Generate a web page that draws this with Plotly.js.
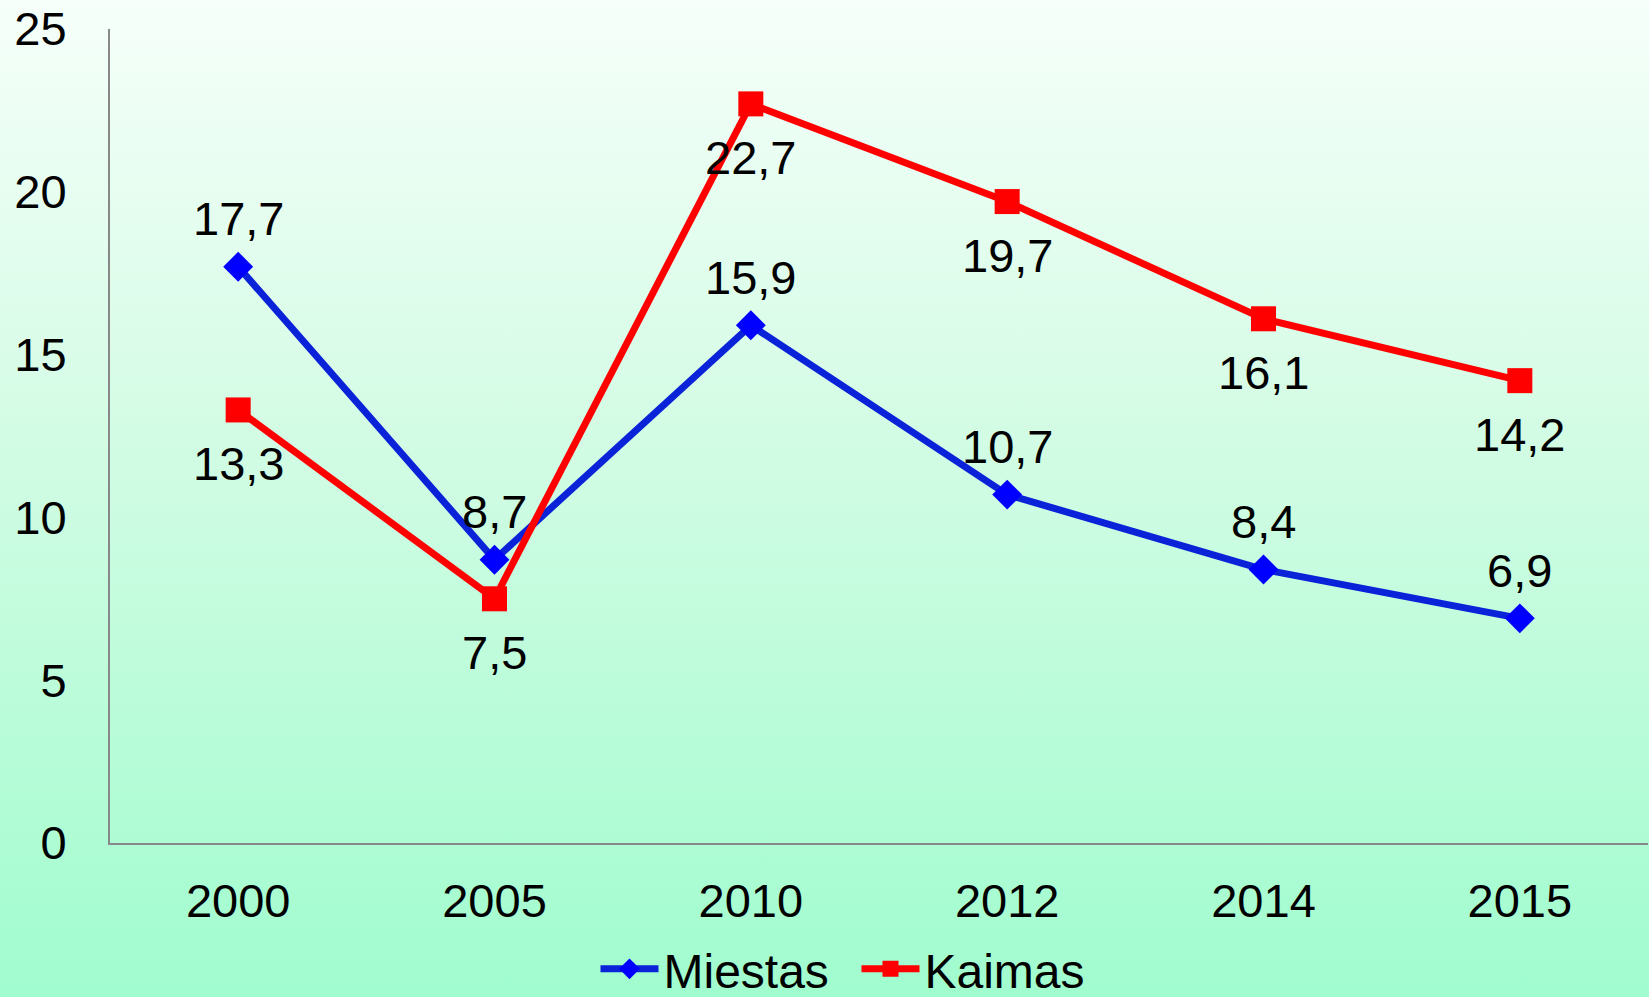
<!DOCTYPE html>
<html>
<head>
<meta charset="utf-8">
<script src="https://cdn.plot.ly/plotly-3.0.1.min.js"></script>
<style>
html,body{margin:0;padding:0;}
#chart{width:1649px;height:997px;background:linear-gradient(to bottom,#f6fffa 0%,#d6fce6 40%,#a0fcce 100%);}
</style>
</head>
<body>
<div id="chart"></div>
<script>
const years = ['2000','2005','2010','2012','2014','2015'];
const miestas = [17.7, 8.7, 15.9, 10.7, 8.4, 6.9];
const kaimas = [13.3, 7.5, 22.7, 19.7, 16.1, 14.2];
const fmt = v => v.toFixed(1).replace('.', ',');
const FONT = 'Liberation Sans, Arial, sans-serif';

const traces = [
  {
    x: years, y: miestas, name: 'Miestas', type: 'scatter', mode: 'lines+markers',
    line: {color: '#0a22d8', width: 7},
    marker: {symbol: 'diamond', size: 23, color: '#0000ff'},
    cliponaxis: false
  },
  {
    x: years, y: kaimas, name: 'Kaimas', type: 'scatter', mode: 'lines+markers',
    line: {color: '#ff0000', width: 7},
    marker: {symbol: 'square', size: 25, color: '#ff0000'},
    cliponaxis: false
  }
];

// category axis: annotation x given as category index
const annotations = [];
years.forEach((yr, i) => {
  annotations.push({x: i, y: miestas[i], xref: 'x', yref: 'y', text: fmt(miestas[i]), showarrow: false,
    yshift: 48, font: {family: FONT, size: 47, color: '#000'}});
  annotations.push({x: i, y: kaimas[i], xref: 'x', yref: 'y', text: fmt(kaimas[i]), showarrow: false,
    yshift: -54, font: {family: FONT, size: 47, color: '#000'}});
});

const layout = {
  width: 1649, height: 997,
  paper_bgcolor: 'rgba(0,0,0,0)', plot_bgcolor: 'rgba(0,0,0,0)',
  margin: {l: 110, r: 1, t: 29, b: 154},
  font: {family: FONT, size: 47, color: '#000'},
  xaxis: {
    type: 'category', categoryarray: years, range: [-0.5, 5.5], showgrid: false, zeroline: false,
    showline: true, linecolor: '#888888', linewidth: 2,
    ticks: '', ticklabelstandoff: 16,
    tickfont: {size: 47}
  },
  yaxis: {
    range: [0, 25], dtick: 5, showgrid: false, zeroline: false,
    showline: true, linecolor: '#888888', linewidth: 2,
    ticks: '', ticklabelstandoff: 32,
    tickfont: {size: 47}
  },
  annotations: annotations,
  showlegend: true,
  legend: {
    orientation: 'h', xref: 'container', yref: 'container',
    x: 0.5194, xanchor: 'center', y: 0.028, yanchor: 'middle',
    font: {size: 48}, bgcolor: 'rgba(0,0,0,0)', itemwidth: 58, entrywidth: 188
  }
};

Plotly.newPlot('chart', traces, layout, {displayModeBar: false, staticPlot: true});
</script>
</body>
</html>
